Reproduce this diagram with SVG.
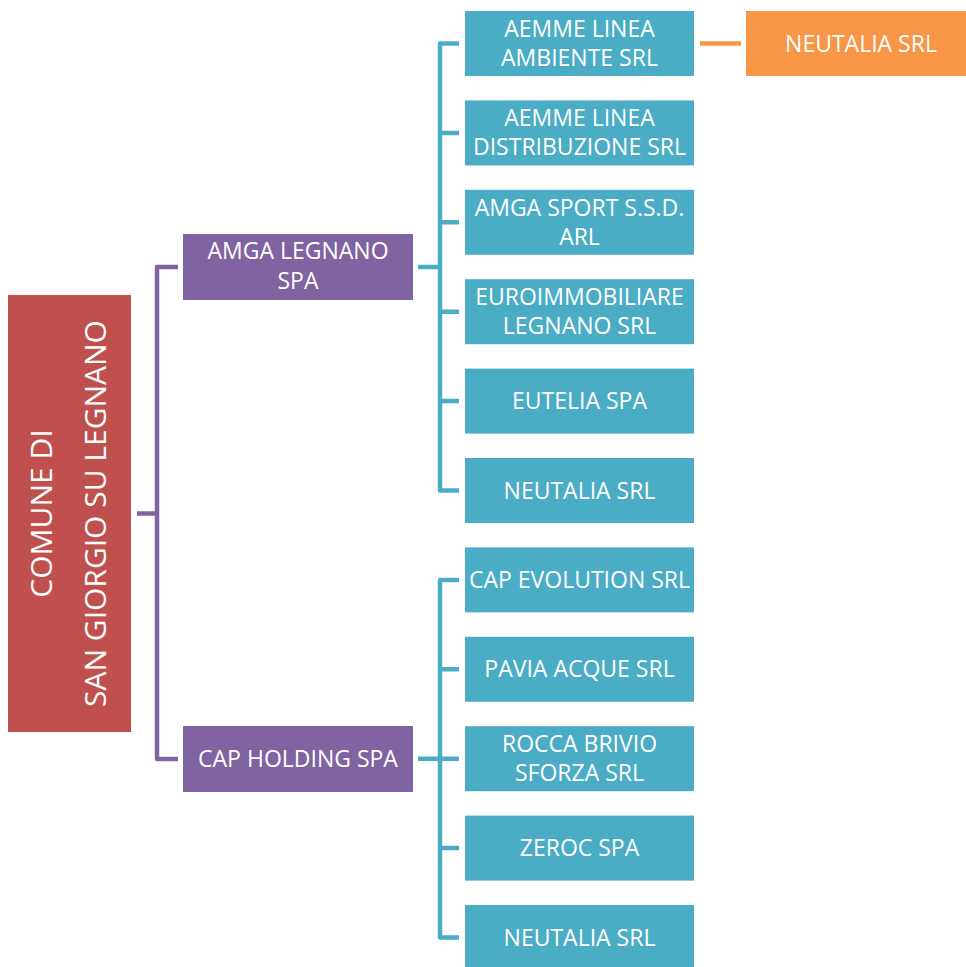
<svg xmlns="http://www.w3.org/2000/svg" width="966" height="967" viewBox="0 0 966 967">
<style>
.t{font-family:"Open Sans","Liberation Sans",sans-serif;font-size:23px;fill:#fff;text-anchor:middle}
.r{font-family:"Open Sans","Liberation Sans",sans-serif;font-size:30px;fill:#fff;text-anchor:middle}
.blue{fill:#4BACC6}
.purple{fill:#8064A2}
.red{fill:#C0504D}
.orange{fill:#F79646}
.cp{fill:none;stroke:#8064A2;stroke-width:4.5;stroke-linejoin:round}
.cb{fill:none;stroke:#4BACC6;stroke-width:4.5;stroke-linejoin:round}
.co{fill:none;stroke:#F79646;stroke-width:4.5}
</style>
<rect width="966" height="967" fill="#fff"/>
<g id="connectors">
<path class="cp" d="M137 513.5H157M178 267H157V759H178"/>
<path class="cb" d="M418 267H440M459 43.5H440V490.5H459M440 132.9H459M440 222.3H459M440 311.7H459M440 401.1H459"/>
<path class="cb" d="M418 758.7H459M459 579.9H440V937.5H459M440 669.3H459M440 848.1H459"/>
<path class="co" d="M700 43.5H741"/>
</g>
<g id="root">
<rect class="red" x="8" y="295" width="123" height="437"/>
<text class="r" transform="translate(52,513.5) rotate(-90)">COMUNE DI</text>
<text class="r" transform="translate(105.5,513.5) rotate(-90)">SAN GIORGIO SU LEGNANO</text>
</g>
<g id="amga">
<rect class="purple" x="183" y="234" width="230" height="66"/>
<text class="t" x="298" y="259">AMGA LEGNANO</text>
<text class="t" x="298" y="289">SPA</text>
</g>
<g id="cap">
<rect class="purple" x="183" y="726" width="230" height="66"/>
<text class="t" x="298" y="767">CAP HOLDING SPA</text>
</g>
<g id="aemme-ambiente">
<rect class="blue" x="465" y="11" width="229" height="65"/>
<text class="t" x="579.5" y="37">AEMME LINEA</text>
<text class="t" x="579.5" y="66">AMBIENTE SRL</text>
</g>
<g id="neutalia-orange">
<rect class="orange" x="746" y="11" width="220" height="65"/>
<text class="t" x="861" y="51.5">NEUTALIA SRL</text>
</g>
<g id="aemme-distribuzione">
<rect class="blue" x="465" y="100.4" width="229" height="65"/>
<text class="t" x="579.5" y="126.4">AEMME LINEA</text>
<text class="t" x="579.5" y="155.4">DISTRIBUZIONE SRL</text>
</g>
<g id="amga-sport">
<rect class="blue" x="465" y="189.8" width="229" height="65"/>
<text class="t" x="579.5" y="215.8">AMGA SPORT S.S.D.</text>
<text class="t" x="579.5" y="244.8">ARL</text>
</g>
<g id="euroimmobiliare">
<rect class="blue" x="465" y="279.2" width="229" height="65"/>
<text class="t" x="579.5" y="305.2">EUROIMMOBILIARE</text>
<text class="t" x="579.5" y="334.2">LEGNANO SRL</text>
</g>
<g id="eutelia">
<rect class="blue" x="465" y="368.6" width="229" height="65"/>
<text class="t" x="579.5" y="409.1">EUTELIA SPA</text>
</g>
<g id="neutalia-1">
<rect class="blue" x="465" y="458" width="229" height="65"/>
<text class="t" x="579.5" y="498.5">NEUTALIA SRL</text>
</g>
<g id="cap-evolution">
<rect class="blue" x="465" y="547.4" width="229" height="65"/>
<text class="t" x="579.5" y="587.9">CAP EVOLUTION SRL</text>
</g>
<g id="pavia-acque">
<rect class="blue" x="465" y="636.8" width="229" height="65"/>
<text class="t" x="579.5" y="677.3">PAVIA ACQUE SRL</text>
</g>
<g id="rocca-brivio">
<rect class="blue" x="465" y="726.2" width="229" height="65"/>
<text class="t" x="579.5" y="752.2">ROCCA BRIVIO</text>
<text class="t" x="579.5" y="781.2">SFORZA SRL</text>
</g>
<g id="zeroc">
<rect class="blue" x="465" y="815.6" width="229" height="65"/>
<text class="t" x="579.5" y="856.1">ZEROC SPA</text>
</g>
<g id="neutalia-2">
<rect class="blue" x="465" y="905" width="229" height="65"/>
<text class="t" x="579.5" y="945.5">NEUTALIA SRL</text>
</g>
</svg>
